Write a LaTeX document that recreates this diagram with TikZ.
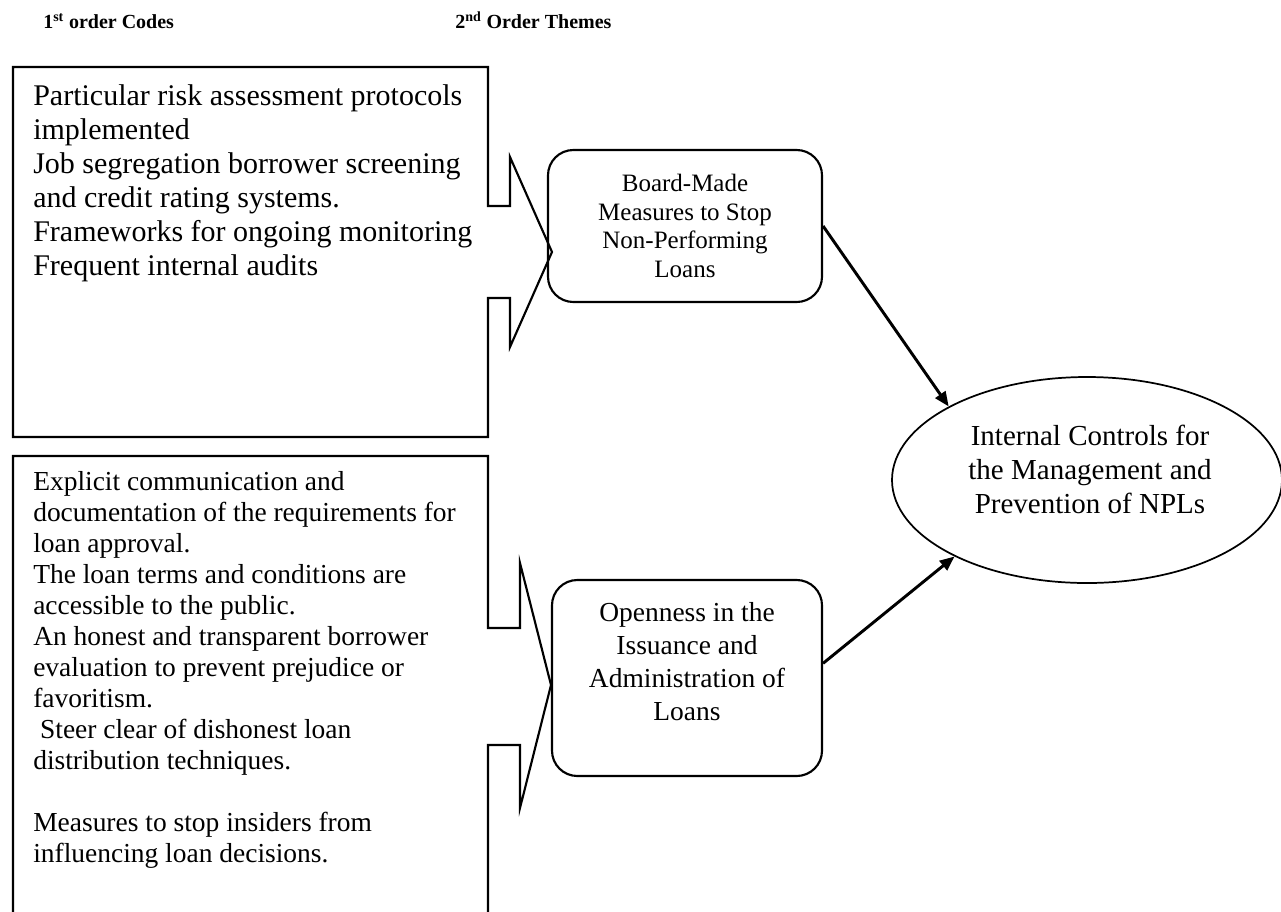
\documentclass[tikz,border=0pt]{standalone}
\usepackage{fontspec}
\setmainfont{Liberation Serif}
\usetikzlibrary{arrows.meta,shapes}

\tikzset{
  codes/.style={draw,line width=1.6pt},
  codetext/.style={anchor=north west,align=left,inner sep=0pt},
  theme/.style={draw,rounded corners=19pt,line width=1.6pt},
  goal/.style={draw,ellipse,line width=1.3pt,minimum width=292.5pt,minimum height=154.5pt},
  conn/.style={line width=2.2pt,-{Triangle[length=11pt,width=9pt]}},
  head/.style={anchor=base west,inner sep=0pt,font=\bfseries\fontsize{15}{18}\selectfont}
}

\begin{document}
\begin{tikzpicture}[x=0.75pt,y=-0.75pt]
\useasboundingbox (0,0) rectangle (1281,911);
\clip (0,0) rectangle (1281,911);

\node (h1)[head] at (43,28) {1\textsuperscript{st} order Codes};
\node (h2)[head] at (455,28) {2\textsuperscript{nd} Order Themes};

\draw[codes] (488,206) -- (488,67) -- (13,67) -- (13,437) -- (488,437) -- (488,298)
  -- (510,298) -- (510,347) -- (552,252) -- (510,157) -- (510,206) -- cycle;
\node (risk)[codetext,font=\fontsize{22.5}{25.5}\selectfont] at (33,84)
  {Particular risk assessment protocols\\implemented\\Job segregation borrower screening\\
   and credit rating systems.\\Frameworks for ongoing monitoring\\Frequent internal audits};

\draw[codes] (13,915) -- (13,456) -- (488,456) -- (488,628) -- (520,628) -- (520,563)
  -- (551,685) -- (520,808) -- (520,745) -- (488,745) -- (488,915);
\node (loans)[codetext,font=\fontsize{20.6}{23.25}\selectfont] at (33,471)
  {Explicit communication and\\documentation of the requirements for\\loan approval.\\
   The loan terms and conditions are\\accessible to the public.\\
   An honest and transparent borrower\\evaluation to prevent prejudice or\\favoritism.\\
   \hspace{0.25em}Steer clear of dishonest loan\\distribution techniques.\\[23.25pt]
   Measures to stop insiders from\\influencing loan decisions.};

\node (board)[theme,minimum width=205.5pt,minimum height=114pt,align=center,
  font=\fontsize{18.75}{21.4}\selectfont] at (685,226)
  {Board-Made\\Measures to Stop\\Non-Performing\\Loans};

\node (open)[theme,minimum width=202.5pt,minimum height=147pt] at (687,678) {};
\node (opentxt)[align=center,font=\fontsize{20.6}{24.75}\selectfont] at (687,662)
  {Openness in the\\Issuance and\\Administration of\\Loans};

\node (npl)[goal] at (1087,480) {};
\node (npltxt)[align=center,font=\fontsize{21.75}{25.5}\selectfont] at (1090,469)
  {Internal Controls for\\the Management and\\Prevention of NPLs};

\draw[conn] (board.east) -- (npl.152);
\draw[conn] ([yshift=11pt]open.east) -- (npl.210);
\end{tikzpicture}
\end{document}
